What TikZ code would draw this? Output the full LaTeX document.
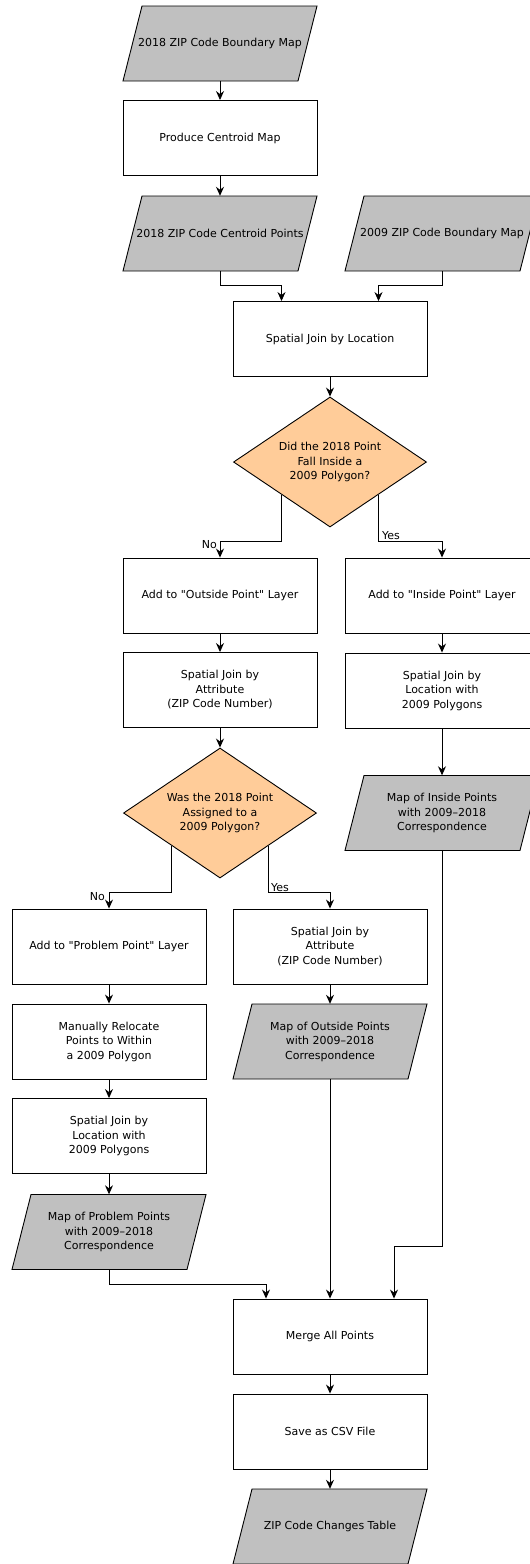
\documentclass[tikz,border=0pt]{standalone}
\usepackage{fontspec}
\setmainfont{DejaVu Sans}[Ligatures=TeXOff]
\usetikzlibrary{arrows.meta,shapes.geometric,calc}
\definecolor{datagrey}{RGB}{192,192,192}
\definecolor{decisionfill}{RGB}{255,204,153}

% data node: grey parallelogram with a named text node on top
\newcommand\datanode[4]{%
  \filldraw[datashape] ({#2-78},{#3-37.5}) -- ({#2+97},{#3-37.5}) -- ({#2+78},{#3+37.5}) -- ({#2-97},{#3+37.5}) -- cycle;
  \node[datatext] (#1) at (#2,#3) {#4};}

\begin{document}
\begin{tikzpicture}[x=1pt,y=-1pt,
  every node/.style={font=\fontsize{11}{14.5}\selectfont},
  procbox/.style={draw, line width=0.9pt, fill=white, minimum width=194pt, minimum height=75pt, inner sep=0pt, align=center},
  datatext/.style={minimum width=194pt, minimum height=75pt, inner sep=0pt, align=center},
  datashape/.style={draw, line width=0.9pt, fill=datagrey},
  decision/.style={diamond, draw, line width=0.9pt, fill=decisionfill, minimum width=193pt, minimum height=130pt, inner sep=0pt, aspect=1.485, align=center},
  arr/.style={draw, line width=0.9pt, -{Stealth[length=9pt,width=8pt,inset=3pt]}},
  lbl/.style={inner sep=0pt, font=\fontsize{11}{13}\selectfont}
]
\useasboundingbox (0,0) rectangle (530,1564);
\clip (0,0) rectangle (530,1564);

% nodes
\datanode{P1}{220}{43.5}{2018 ZIP Code Boundary Map}
\node[procbox] (B1) at (220,138) {Produce Centroid Map};
\datanode{P2}{220}{233.5}{2018 ZIP Code Centroid Points}
\datanode{P3}{442}{233.5}{2009 ZIP Code Boundary Map}
\node[procbox] (B2) at (330,339) {Spatial Join by Location};
\node[decision] (D1) at (330,462) {Did the 2018 Point\\Fall Inside a\\2009 Polygon?};
\node[procbox] (B3) at (220,595.5) {Add to "Outside Point" Layer};
\node[procbox] (B4) at (442,595.5) {Add to "Inside Point" Layer};
\node[procbox] (B5) at (220,690) {Spatial Join by\\Attribute\\(ZIP Code Number)};
\node[procbox] (B6) at (442,690.5) {Spatial Join by\\Location with\\2009 Polygons};
\node[decision] (D2) at (220,813) {Was the 2018 Point\\Assigned to a\\2009 Polygon?};
\datanode{P4}{442}{813}{Map of Inside Points\\with 2009\textendash 2018\\Correspondence}
\node[procbox] (B7) at (109,946.5) {Add to "Problem Point" Layer};
\node[procbox] (B8) at (330,946.5) {Spatial Join by\\Attribute\\(ZIP Code Number)};
\node[procbox] (B9) at (109,1041.5) {Manually Relocate\\Points to Within\\a 2009 Polygon};
\datanode{P5}{330}{1041.5}{Map of Outside Points\\with 2009\textendash 2018\\Correspondence}
\node[procbox] (B10) at (109,1136) {Spatial Join by\\Location with\\2009 Polygons};
\datanode{P6}{109}{1232}{Map of Problem Points\\with 2009\textendash 2018\\Correspondence}
\node[procbox] (M) at (330,1336.5) {Merge All Points};
\node[procbox] (S) at (330,1431.5) {Save as CSV File};
\datanode{P7}{330}{1526.5}{ZIP Code Changes Table}

% connectors
\draw[arr] (P1.south) -- (B1.north);
\draw[arr] (B1.south) -- (P2.north);
\draw[arr] (P2.south) |- ([xshift=-48.5pt,yshift=16pt]B2.north) -- ([xshift=-48.5pt]B2.north);
\draw[arr] (P3.south) |- ([xshift=48.5pt,yshift=16pt]B2.north) -- ([xshift=48.5pt]B2.north);
\draw[arr] (B2.south) -- (D1.north);
\draw[arr] ($(D1.west)!0.5!(D1.south)$) |- ([yshift=16pt]B3.north) -- (B3.north);
\draw[arr] ($(D1.east)!0.5!(D1.south)$) |- ([yshift=16pt]B4.north) -- (B4.north);
\draw[arr] (B3.south) -- (B5.north);
\draw[arr] (B4.south) -- (B6.north);
\draw[arr] (B5.south) -- (D2.north);
\draw[arr] (B6.south) -- (P4.north);
\draw[arr] ($(D2.west)!0.5!(D2.south)$) |- ([yshift=16pt]B7.north) -- (B7.north);
\draw[arr] ($(D2.east)!0.5!(D2.south)$) |- ([yshift=16pt]B8.north) -- (B8.north);
\draw[arr] (B7.south) -- (B9.north);
\draw[arr] (B8.south) -- (P5.north);
\draw[arr] (B9.south) -- (B10.north);
\draw[arr] (B10.south) -- (P6.north);
\draw[arr] (P6.south) |- ([xshift=-64pt,yshift=14pt]M.north) -- ([xshift=-64pt]M.north);
\draw[arr] (P5.south) -- (M.north);
\draw[arr] (P4.south) |- ([xshift=64pt,yshift=52pt]M.north) -- ([xshift=64pt]M.north);
\draw[arr] (M.south) -- (S.north);
\draw[arr] (S.south) -- (P7.north);

% branch labels
\node[lbl, anchor=base east] at (217,548) {No};
\node[lbl, anchor=base west] at (382,539) {Yes};
\node[lbl, anchor=base east] at (105,900) {No};
\node[lbl, anchor=base west] at (271,891) {Yes};
\end{tikzpicture}
\end{document}
